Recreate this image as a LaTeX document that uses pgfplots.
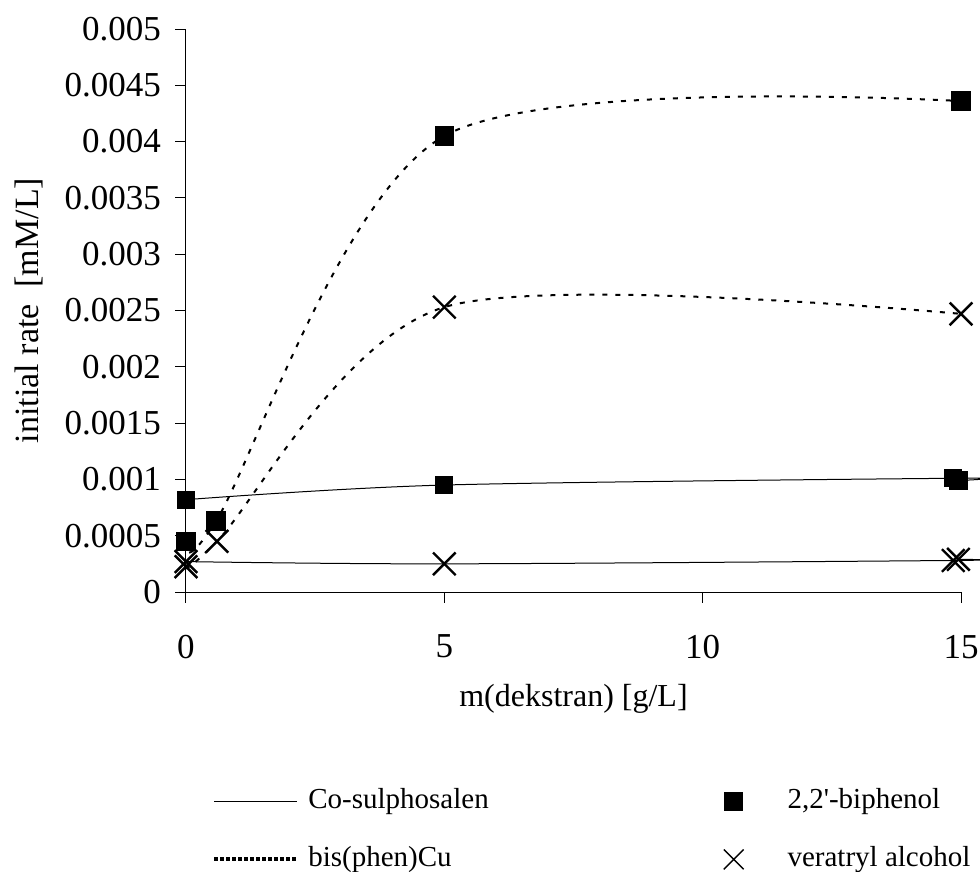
\documentclass[border=0pt]{standalone}
\usepackage{fontspec}
\setmainfont{Liberation Serif}
\usepackage{pgfplots}
\pgfplotsset{compat=1.18}
\pgfplotsset{
  lineleg/.style={legend image code/.code={\draw[##1] (0pt,0pt) -- (41.5pt,0pt);}},
  markleg/.style={legend image code/.code={\draw[##1] plot coordinates {(0pt,0pt)};}},
}
\begin{document}
\begin{tikzpicture}
\useasboundingbox (-93pt,-140pt) rectangle (397pt,296pt);
\begin{axis}[
  scale only axis, width=387.5pt, height=281.5pt,
  at={(0,0)}, anchor=south west,
  xmin=0, xmax=15, ymin=0, ymax=0.005,
  axis x line*=bottom, axis y line*=left,
  axis line style={-, black, line width=0.5pt},
  xtick={0,5,10,15}, xticklabels={0,5,10,15},
  ytick={0,0.0005,0.001,0.0015,0.002,0.0025,0.003,0.0035,0.004,0.0045,0.005},
  yticklabels={0,0.0005,0.001,0.0015,0.002,0.0025,0.003,0.0035,0.004,0.0045,0.005},
  scaled y ticks=false,
  tick align=outside, major tick length=5.3pt,
  tick style={black, line width=0.5pt},
  yticklabel style={font=\fontsize{17.5}{21}\selectfont, inner sep=0pt, anchor=east, xshift=-7pt},
  xticklabel style={font=\fontsize{17.5}{21}\selectfont, inner sep=0pt, anchor=north, yshift=-16pt},
  xlabel={m(dekstran) [g/L]},
  ylabel={initial rate~~[mM/L]},
  xlabel style={font=\fontsize{16}{20}\selectfont, at={(axis description cs:0.5,-0.19)}, anchor=center},
  ylabel style={font=\fontsize{17}{20}\selectfont, at={(axis description cs:-0.203,0.5)}, anchor=center},
  clip=false,
  legend columns=2,
  legend cell align=left,
  legend style={draw=none, fill=none, inner sep=0pt, at={(axis description cs:0.0335,-0.3446)}, anchor=north west,
    font=\fontsize{14.5}{17}\selectfont,
    nodes={inner sep=1pt, text height=10pt, text depth=3pt},
    row sep=14pt,
    /tikz/every odd column/.append style={column sep=3.5pt},
    /tikz/every even column/.append style={column sep=116.5pt}},
]
% Co-sulphosalen, 2,2'-biphenol
\addplot[forget plot, black, line width=0.5pt, smooth, mark=square*, mark size=4.3pt, mark options={solid}]
  coordinates {(0,0.00082) (5,0.00095) (14.85,0.00101) (14.95,0.00099)};
% Co-sulphosalen, veratryl alcohol
\addplot[forget plot, black, line width=0.5pt, smooth, mark=x, mark size=8pt, mark options={solid, line width=1.2pt}]
  coordinates {(0,0.00027) (5,0.00025) (14.85,0.00028) (14.95,0.00029)};
% bis(phen)Cu, 2,2'-biphenol
\addplot[forget plot, black, line width=1pt, dash pattern=on 2.5pt off 4pt, smooth, mark=square*, mark size=4.3pt, mark options={solid}]
  coordinates {(0,0.00045) (0.58,0.00063) (5,0.00405) (15,0.00436)};
% bis(phen)Cu, veratryl alcohol
\addplot[forget plot, black, line width=1pt, dash pattern=on 2.5pt off 4pt, smooth, mark=x, mark size=8pt, mark options={solid, line width=1.2pt}]
  coordinates {(0,0.000225) (0.6,0.00045) (5,0.00253) (15,0.00247)};

\addlegendimage{black, line width=0.5pt, lineleg}
\addlegendentry{Co-sulphosalen}
\addlegendimage{black, only marks, mark=square*, mark size=4.5pt, markleg}
\addlegendentry{\hspace*{17.5pt}2,2\textquotesingle-biphenol}
\addlegendimage{black, line width=2pt, dash pattern=on 1.7pt off 1.3pt, lineleg}
\addlegendentry{bis(phen)Cu}
\addlegendimage{black, only marks, mark=x, mark size=7pt, mark options={line width=0.7pt}, markleg}
\addlegendentry{\hspace*{17.5pt}veratryl alcohol}
\end{axis}
\end{tikzpicture}
\end{document}
